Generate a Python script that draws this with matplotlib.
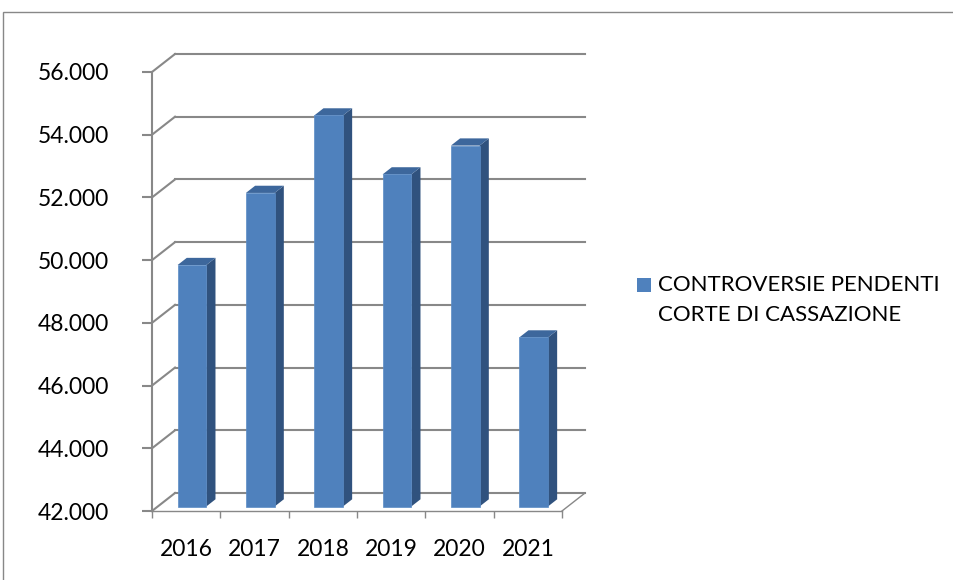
import numpy as np
import matplotlib.pyplot as plt
from matplotlib.patches import Polygon, Rectangle

# DATA
years = ["2016", "2017", "2018", "2019", "2020", "2021"]
pending = [49700, 52000, 54470, 52590, 53510, 47390]
yticks = [42000, 44000, 46000, 48000, 50000, 52000, 54000, 56000]
series_label = "CONTROVERSIE PENDENTI\nCORTE DI CASSAZIONE"

plt.rcParams['font.family'] = ['Lato', 'DejaVu Sans']

GRAY = "#888888"
FRONT = "#4F81BD"
TOP = "#3D679C"
SIDE = "#30527E"

# fake 3d depth, in data units
DX = 0.337      # full depth, categories
DY = 574.0      # full depth, value units
F0 = 0.25       # where the bar front sits in the depth
BD = 0.40       # bar depth
W = 0.42        # bar width

fig = plt.figure(figsize=(9.54, 5.80), dpi=100)
ax = fig.add_axes([152/954, (580-511)/580, 410/954, 439/580])
ax.set_xlim(-0.5, 5.5)
ax.set_ylim(42000, 56000)

# outer chart border
fig.patches.append(Rectangle((3/954, -0.05), 1.1, (580-12)/580 + 0.05,
                             transform=fig.transFigure, fill=False,
                             edgecolor=GRAY, lw=1))

# back wall gridlines + side wall diagonals
for v in yticks:
    ax.plot([-0.5, -0.5 + DX], [v, v + DY], color=GRAY, lw=1.5, clip_on=False, zorder=1)
    ax.plot([-0.5 + DX, 5.5 + DX], [v + DY, v + DY], color=GRAY, lw=1.5, clip_on=False, zorder=1)
# floor right edge
ax.plot([5.5, 5.5 + DX], [42000, 42000 + DY], color=GRAY, lw=1, clip_on=False, zorder=1)

# bars
x = np.arange(len(years))
xf = x + F0 * DX
base = 42000 + F0 * DY
ax.bar(xf, np.array(pending) - 42000, bottom=base, width=W, color=FRONT,
       edgecolor="#5B8CC6", lw=0.5, zorder=3)
for xi, v in zip(xf, pending):
    top = v + F0 * DY
    r = xi + W / 2
    l = xi - W / 2
    side = [(r, base), (r + BD * DX, base + BD * DY), (r + BD * DX, top + BD * DY), (r, top)]
    lid = [(l, top), (r, top), (r + BD * DX, top + BD * DY), (l + BD * DX, top + BD * DY)]
    ax.add_patch(Polygon(side, closed=True, facecolor=SIDE, edgecolor="none", zorder=2.9, clip_on=False))
    ax.add_patch(Polygon(lid, closed=True, facecolor=TOP, edgecolor="none", zorder=2.9, clip_on=False))

# axes
for s in ["top", "right"]:
    ax.spines[s].set_visible(False)
ax.spines["left"].set_color(GRAY)
ax.spines["left"].set_linewidth(1.5)
ax.spines["bottom"].set_color(GRAY)
ax.spines["bottom"].set_linewidth(1)
ax.set_yticks(yticks)
ax.set_yticklabels([f"{v:,}".replace(",", ".") for v in yticks], fontsize=16.5)
ax.tick_params(axis="y", length=7, width=1.5, color=GRAY, pad=24)
ax.set_xticks(x)
ax.set_xticklabels(years, fontsize=16.5)
ax.set_xticks(np.arange(-0.5, 6, 1), minor=True)
ax.tick_params(axis="x", which="major", length=0, pad=20)
ax.tick_params(axis="x", which="minor", length=5, width=1, color=GRAY)

# legend
fig.patches.append(Rectangle((637/954, (580-292)/580), 14/954, 14/580,
                             transform=fig.transFigure, facecolor=FRONT, edgecolor="none"))
fig.text(658/954, (580-275)/580, series_label, fontsize=16, va="top", ha="left",
         linespacing=1.65)

fig.savefig("out.png", dpi=100)
